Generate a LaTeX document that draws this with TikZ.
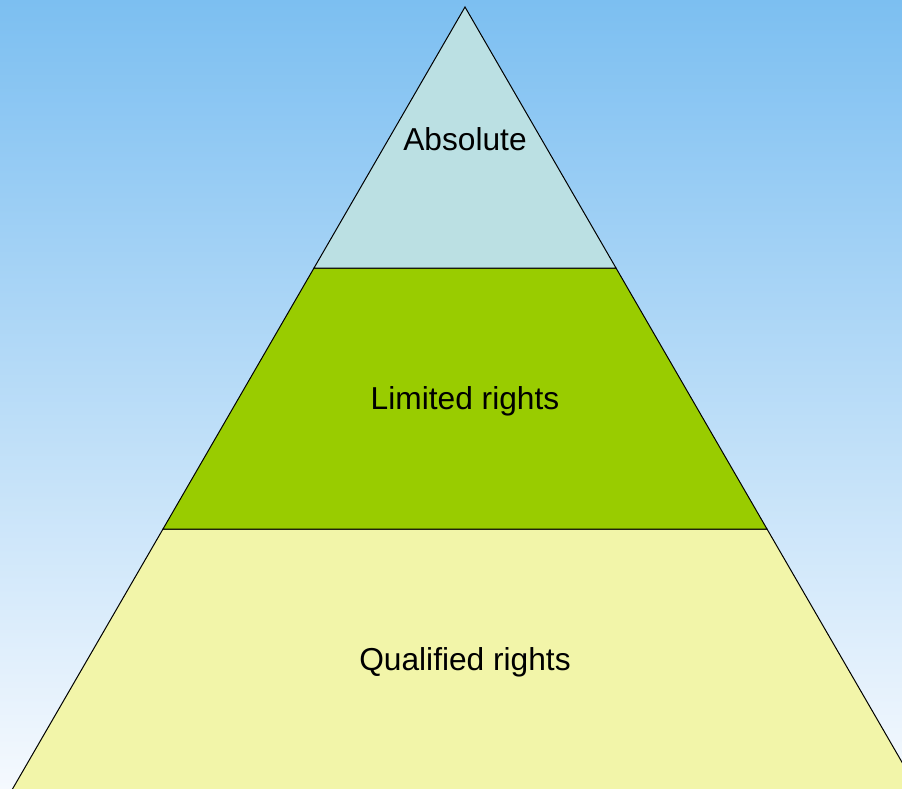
\documentclass[tikz,border=0pt]{standalone}
\usepackage{fontspec}
\setmainfont{Liberation Sans}
\definecolor{skytop}{HTML}{7CBFF1}
\definecolor{skybot}{HTML}{F5F9FE}
\definecolor{tierA}{HTML}{BBE0E3}
\definecolor{tierB}{HTML}{99CC00}
\definecolor{tierC}{HTML}{F2F5A9}
\tikzset{
  tier/.style={draw=black, line width=1pt, line join=miter},
  tierlabel/.style={font=\fontsize{31.7}{38}\selectfont, text=black, inner sep=0pt}
}
\begin{document}
\begin{tikzpicture}[x=1pt,y=-1pt]
  \useasboundingbox (0,0) rectangle (902,789);
  \shade[top color=skytop, bottom color=skybot] (0,0) rectangle (902,789);
  \begin{scope}
    \clip (0,0) rectangle (902,789);
    \coordinate (apex) at (465,7);
    \coordinate (l1) at (314,268);
    \coordinate (r1) at (616,268);
    \coordinate (l2) at (163,529);
    \coordinate (r2) at (767,529);
    \coordinate (l4) at (1.5,808);
    \coordinate (r4) at (928.5,808);
    \filldraw[tier, fill=tierC] (l2) -- (r2) -- (r4) -- (l4) -- cycle;
    \filldraw[tier, fill=tierB] (l1) -- (r1) -- (r2) -- (l2) -- cycle;
    \filldraw[tier, fill=tierA] (apex) -- (r1) -- (l1) -- cycle;
  \end{scope}
  \node[tierlabel] (absolute) at (465,139) {Absolute};
  \node[tierlabel] (limited) at (465,401) {Limited rights};
  \node[tierlabel] (qualified) at (465,662) {Qualified rights};
\end{tikzpicture}
\end{document}
